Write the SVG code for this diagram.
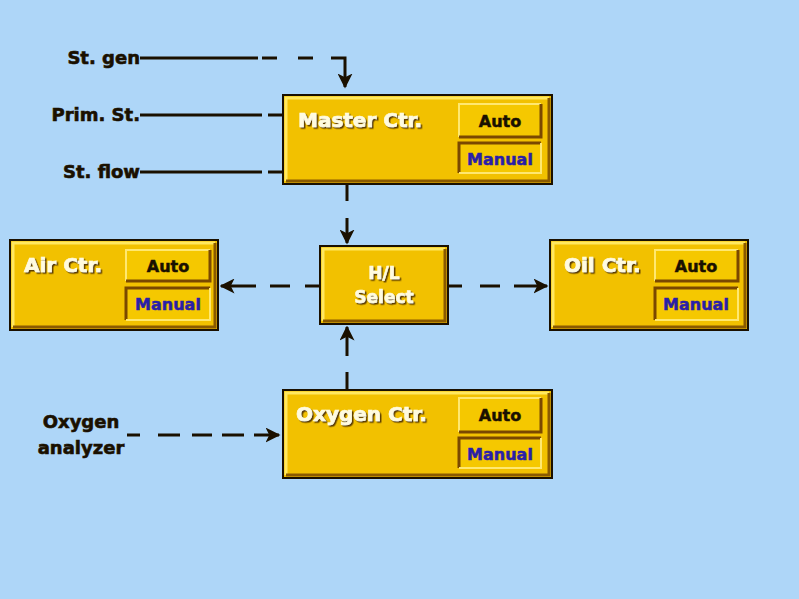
<svg xmlns="http://www.w3.org/2000/svg" width="799" height="599" viewBox="0 0 799 599">
<defs>
<style>
.box{fill:#F2C100;stroke:#1a1000;stroke-width:2}
.hl{fill:none;stroke:#FFE860;stroke-width:3}
.sh{fill:none;stroke:#8a5a00;stroke-width:3}
.title{font-family:"DejaVu Sans","Liberation Sans",sans-serif;font-weight:bold;font-size:20px;fill:#FFFBE0;stroke:#FFFBE0;stroke-width:0.7;filter:url(#ds)}
.sel{font-family:"DejaVu Sans","Liberation Sans",sans-serif;font-weight:bold;font-size:17px;fill:#FFFBE0;stroke:#FFFBE0;stroke-width:0.6;filter:url(#ds)}
.auto{font-family:"DejaVu Sans","Liberation Sans",sans-serif;font-weight:bold;font-size:16px;fill:#1a1000;stroke:#1a1000;stroke-width:0.5}
.man{font-family:"DejaVu Sans","Liberation Sans",sans-serif;font-weight:bold;font-size:16px;fill:#2A1FA8;stroke:#2A1FA8;stroke-width:0.5}
.btn{fill:#F5C800}
.lbl{font-family:"DejaVu Sans","Liberation Sans",sans-serif;font-weight:bold;font-size:18px;fill:#1a1000;stroke:#1a1000;stroke-width:0.6}
.ln{fill:none;stroke:#1a1000;stroke-width:3}
.up{fill:none;stroke:#FFE870;stroke-width:2}
.dn{fill:none;stroke:#7a4800;stroke-width:3}
</style>
<filter id="ds" x="-10%" y="-20%" width="130%" height="150%">
<feDropShadow dx="1.5" dy="1.5" stdDeviation="0.6" flood-color="#5a3a00" flood-opacity="1"/>
</filter>
<marker id="ah" viewBox="0 0 10 10" refX="9" refY="5" markerWidth="5" markerHeight="5" orient="auto" markerUnits="strokeWidth">
<path d="M0,0 L10,5 L0,10 L2.5,5 z" fill="#1a1000"/>
</marker>
</defs>
<rect width="799" height="599" fill="#AED6F8"/>

<g id="connectors">
<line class="ln" x1="140" y1="58" x2="258" y2="58"/>
<path class="ln" d="M262,58 H277 M298,58 H313 M331,58 H345 V87" marker-end="url(#ah)"/>
<line class="ln" x1="140" y1="115" x2="262" y2="115"/>
<line class="ln" x1="268" y1="115" x2="283" y2="115"/>
<line class="ln" x1="140" y1="172" x2="262" y2="172"/>
<line class="ln" x1="268" y1="172" x2="283" y2="172"/>
<path class="ln" d="M347,184 V201 M347,218 V243" marker-end="url(#ah)"/>
<path class="ln" d="M320,286 H305 M290,286 H270 M256,286 H221" marker-end="url(#ah)"/>
<path class="ln" d="M448,286 H462 M480,286 H500 M514,286 H547" marker-end="url(#ah)"/>
<path class="ln" d="M347,390 V372 M347,356 V327" marker-end="url(#ah)"/>
<path class="ln" d="M127,435 H140 M158,435 H180 M192,435 H212 M222,435 H244 M254,435 H279" marker-end="url(#ah)"/>
</g>

<g id="master">
<rect class="box" x="283" y="95" width="269" height="89"/>
<path class="hl" d="M286,181 V98 H549"/>
<path class="sh" d="M286,181 H549 V98"/>
<rect class="btn" x="459" y="104" width="82" height="33"/>
<path class="up" d="M459,137 V104 H541"/>
<path class="dn" d="M459,137 H541 V104"/>
<text class="auto" x="500" y="127" text-anchor="middle">Auto</text>
<rect class="btn" x="459" y="143" width="82" height="30"/>
<path class="dn" d="M459,173 V143 H541"/>
<path class="up" d="M459,173 H541 V143"/>
<text class="man" x="500" y="165" text-anchor="middle">Manual</text>
<text class="title" x="298" y="127">Master Ctr.</text>
</g>

<g id="air">
<rect class="box" x="10" y="240" width="208" height="90"/>
<path class="hl" d="M13,327 V243 H215"/>
<path class="sh" d="M13,327 H215 V243"/>
<rect class="btn" x="126" y="250" width="84" height="31"/>
<path class="up" d="M126,281 V250 H210"/>
<path class="dn" d="M126,281 H210 V250"/>
<text class="auto" x="168" y="272" text-anchor="middle">Auto</text>
<rect class="btn" x="126" y="288" width="84" height="32"/>
<path class="dn" d="M126,320 V288 H210"/>
<path class="up" d="M126,320 H210 V288"/>
<text class="man" x="168" y="310" text-anchor="middle">Manual</text>
<text class="title" x="24" y="272">Air Ctr.</text>
</g>

<g id="hl-select">
<rect class="box" x="320" y="246" width="128" height="78"/>
<path class="hl" d="M323,321 V249 H445"/>
<path class="sh" d="M323,321 H445 V249"/>
<text class="sel" x="384" y="279" text-anchor="middle">H/L</text>
<text class="sel" x="384" y="303" text-anchor="middle">Select</text>
</g>

<g id="oil">
<rect class="box" x="550" y="240" width="198" height="90"/>
<path class="hl" d="M553,327 V243 H745"/>
<path class="sh" d="M553,327 H745 V243"/>
<rect class="btn" x="655" y="250" width="83" height="31"/>
<path class="up" d="M655,281 V250 H738"/>
<path class="dn" d="M655,281 H738 V250"/>
<text class="auto" x="696" y="272" text-anchor="middle">Auto</text>
<rect class="btn" x="655" y="288" width="83" height="32"/>
<path class="dn" d="M655,320 V288 H738"/>
<path class="up" d="M655,320 H738 V288"/>
<text class="man" x="696" y="310" text-anchor="middle">Manual</text>
<text class="title" x="564" y="272">Oil Ctr.</text>
</g>

<g id="oxygen">
<rect class="box" x="283" y="390" width="269" height="88"/>
<path class="hl" d="M286,475 V393 H549"/>
<path class="sh" d="M286,475 H549 V393"/>
<rect class="btn" x="459" y="398" width="82" height="34"/>
<path class="up" d="M459,432 V398 H541"/>
<path class="dn" d="M459,432 H541 V398"/>
<text class="auto" x="500" y="421" text-anchor="middle">Auto</text>
<rect class="btn" x="459" y="438" width="82" height="30"/>
<path class="dn" d="M459,468 V438 H541"/>
<path class="up" d="M459,468 H541 V438"/>
<text class="man" x="500" y="460" text-anchor="middle">Manual</text>
<text class="title" x="296" y="421">Oxygen Ctr.</text>
</g>

<g id="labels">
<text class="lbl" x="140" y="64" text-anchor="end">St. gen</text>
<text class="lbl" x="140" y="121" text-anchor="end">Prim. St.</text>
<text class="lbl" x="140" y="178" text-anchor="end">St. flow</text>
<text class="lbl" x="81" y="428" text-anchor="middle">Oxygen</text>
<text class="lbl" x="81" y="454" text-anchor="middle">analyzer</text>
</g>
</svg>
